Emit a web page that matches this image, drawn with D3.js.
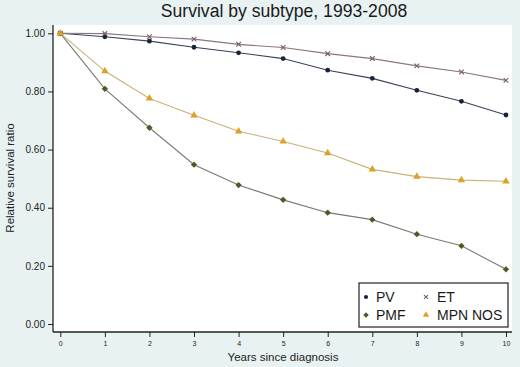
<!DOCTYPE html>
<html>
<head>
<meta charset="utf-8">
<script src="https://cdn.jsdelivr.net/npm/d3@7"></script>
<style>
  html, body { margin: 0; padding: 0; background: #e9f2f3; }
  svg { display: block; font-family: Arial, "Liberation Sans", sans-serif; }
</style>
</head>
<body>
<div id="chart"></div>
<script>
const width = 520;
const height = 367;

const years = [0, 1, 2, 3, 4, 5, 6, 7, 8, 9, 10];
const pv     = [1.000, 0.988, 0.973, 0.952, 0.933, 0.913, 0.873, 0.845, 0.804, 0.766, 0.719];
const et     = [1.000, 0.999, 0.988, 0.980, 0.962, 0.951, 0.930, 0.913, 0.888, 0.867, 0.838];
const pmf    = [1.000, 0.809, 0.675, 0.548, 0.478, 0.427, 0.383, 0.359, 0.309, 0.269, 0.188];
const mpnNos = [1.000, 0.870, 0.776, 0.718, 0.663, 0.628, 0.588, 0.532, 0.507, 0.495, 0.491];
const yTicks = [0, 0.2, 0.4, 0.6, 0.8, 1.0];

const series = [
  {name: "PV", values: pv, line: "#3b4254", mark: "#17223d", symbol: "circle"},
  {name: "ET", values: et, line: "#8a7680", mark: "#7a5a68", symbol: "cross"},
  {name: "PMF", values: pmf, line: "#7a7a72", mark: "#4c5a24", symbol: "diamond"},
  {name: "MPN NOS", values: mpnNos, line: "#c9b27a", mark: "#dea025", symbol: "triangle"}
];

const x = d3.scaleLinear().domain([0, 10]).range([60.3, 506]);
const y = d3.scaleLinear().domain([0, 1]).range([324, 33.3]);

const svg = d3.select("#chart").append("svg")
  .attr("width", width)
  .attr("height", height);

svg.append("rect").attr("width", width).attr("height", height).attr("fill", "#e9f2f3");

// plot region
svg.append("rect")
  .attr("x", 53).attr("y", 25)
  .attr("width", 459).attr("height", 307)
  .attr("fill", "#ffffff");

svg.append("text")
  .attr("x", 284).attr("y", 17)
  .attr("text-anchor", "middle")
  .attr("font-size", 17.6)
  .attr("fill", "#1a1a1a")
  .text("Survival by subtype, 1993-2008");

// y axis
const yAxis = svg.append("g")
  .attr("transform", "translate(53,0)")
  .call(d3.axisLeft(y).tickValues(yTicks).tickFormat(d3.format(".2f")).tickSize(5).tickPadding(3));
yAxis.select(".domain").attr("stroke", "#222").attr("stroke-width", 1.3)
  .attr("d", "M0,25V332");
yAxis.selectAll(".tick line").attr("stroke", "#222");
yAxis.selectAll(".tick text").attr("font-size", 10).attr("fill", "#222");

// x axis
const xAxis = svg.append("g")
  .attr("transform", "translate(0,332)")
  .call(d3.axisBottom(x).tickValues(years).tickSize(5).tickPadding(4));
xAxis.select(".domain").attr("stroke", "#222").attr("stroke-width", 1.3)
  .attr("d", "M53,0H512");
xAxis.selectAll(".tick line").attr("stroke", "#222");
xAxis.selectAll(".tick text").attr("font-size", 7).attr("fill", "#222");

svg.append("text")
  .attr("transform", "translate(14,178) rotate(-90)")
  .attr("text-anchor", "middle")
  .attr("font-size", 11.5)
  .attr("fill", "#222")
  .text("Relative survival ratio");

svg.append("text")
  .attr("x", 283).attr("y", 361)
  .attr("text-anchor", "middle")
  .attr("font-size", 11.5)
  .attr("fill", "#222")
  .text("Years since diagnosis");

const line = d3.line().x((d, i) => x(years[i])).y(d => y(d));

const symbolType = {
  circle: d3.symbolCircle,
  cross: d3.symbolTimes,
  diamond: d3.symbolSquare,
  triangle: d3.symbolTriangle
};
const symbolSize = {circle: 18, cross: 16, diamond: 20, triangle: 24};

function drawSymbol(g, s, cx, cy, scale = 1) {
  const rot = s.symbol === "diamond" ? " rotate(45)" : "";
  const p = g.append("path")
    .attr("transform", `translate(${cx},${cy})${rot}`)
    .attr("d", d3.symbol().type(symbolType[s.symbol]).size(symbolSize[s.symbol] * scale)());
  if (s.symbol === "cross") {
    p.attr("fill", "none").attr("stroke", s.mark).attr("stroke-width", 1.1);
  } else {
    p.attr("fill", s.mark);
  }
}

series.forEach(s => {
  svg.append("path")
    .attr("d", line(s.values))
    .attr("fill", "none")
    .attr("stroke", s.line)
    .attr("stroke-width", 1.1);
});

series.forEach(s => {
  const g = svg.append("g");
  s.values.forEach((v, i) => drawSymbol(g, s, x(years[i]), y(v)));
});

// legend
const legend = svg.append("g");
legend.append("rect")
  .attr("x", 359).attr("y", 283)
  .attr("width", 149).attr("height", 44)
  .attr("fill", "#ffffff")
  .attr("stroke", "#222")
  .attr("stroke-width", 1.2);

const legendPos = [
  {cx: 366, tx: 376, cy: 297},
  {cx: 426, tx: 437, cy: 297},
  {cx: 366, tx: 376, cy: 315},
  {cx: 426, tx: 437, cy: 315}
];
series.forEach((s, i) => {
  const p = legendPos[i];
  drawSymbol(legend, s, p.cx, p.cy, 0.75);
  legend.append("text")
    .attr("x", p.tx).attr("y", p.cy + 5)
    .attr("font-size", 14)
    .attr("fill", "#1a1a1a")
    .text(s.name);
});
</script>
</body>
</html>
